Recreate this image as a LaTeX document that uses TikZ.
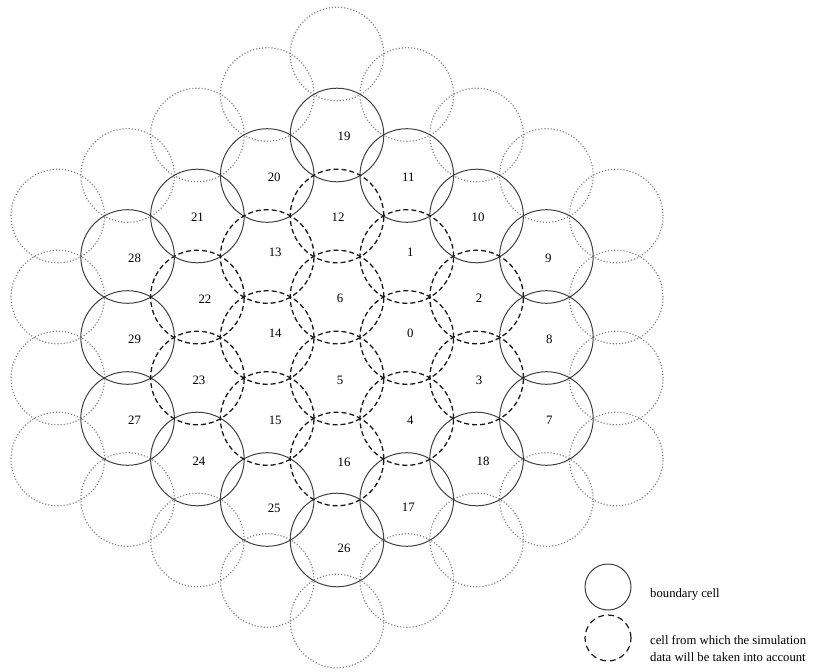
\documentclass[tikz,border=0pt]{standalone}
\usepackage{fontspec}
\setmainfont{Liberation Serif}
\usetikzlibrary{positioning,calc}

\begin{document}
\begin{tikzpicture}[
  x=1pt, y=-1pt,
  cell/.style={circle, minimum size=93.6pt, inner sep=0pt},
  boundcell/.style={cell, draw=black!75, line width=1pt},
  datacell/.style={cell, draw=black!90, line width=1.3pt, dash pattern=on 5pt off 3pt},
  ringcell/.style={cell, draw=black!50, line width=1.2pt, dash pattern=on 1.1pt off 2pt},
  num/.style={inner sep=0pt, font=\fontsize{12.8}{14}\selectfont},
  legtext/.style={anchor=west, align=left, inner sep=0pt, font=\fontsize{12.7}{17}\selectfont}
]
  \useasboundingbox (0,0) rectangle (820,672);

  % outer ring, not part of the model
  \foreach \i/\j [count=\k] in {-4/-3,-4/-1,-4/1,-4/3,4/-3,4/-1,4/1,4/3,
      -3/-4,-3/4,3/-4,3/4,-2/-5,-2/5,2/-5,2/5,-1/-6,-1/6,1/-6,1/6,0/-7,0/7}
    \node[ringcell] (o\k) at ({337+69.8*\i},{337.5+40.5*\j}) {};

  % boundary cells
  \foreach \i/\j/\n/\dx/\dy in {3/2/7/3/1.5, 3/0/8/3/1.5, 3/-2/9/2/1.5,
      2/-3/10/1.5/1, 1/-4/11/1.5/1.5, 1/4/17/1.5/7.5, 2/3/18/6.5/2,
      0/-5/19/7/1, -1/-4/20/7/1.5, -2/-3/21/0/1, -2/3/24/1.5/2,
      -1/4/25/7/8.5, 0/5/26/7/8, -3/2/27/7/1.5, -3/-2/28/7/1.5, -3/0/29/7/1.5} {
    \node[boundcell] (c\n) at ({337+69.8*\i},{337.5+40.5*\j}) {};
    \node[num] (n\n) at ($(c\n)+(\dx,\dy)$) {\n};
  }

  % cells whose data are used
  \foreach \i/\j/\n/\dx/\dy in {1/0/0/3.5/-4.5, 1/-2/1/3.5/-4.5, 2/-1/2/2.5/1,
      2/1/3/2.5/2, 1/2/4/3.5/1.5, 0/1/5/3/2, 0/-1/6/3/1, 0/-3/12/1/1,
      -1/-2/13/8/-4.5, -1/0/14/8/-4.5, -1/2/15/8/1.5, 0/3/16/7/3,
      -2/-1/22/7.5/2, -2/1/23/1.5/2} {
    \node[datacell] (c\n) at ({337+69.8*\i},{337.5+40.5*\j}) {};
    \node[num] (n\n) at ($(c\n)+(\dx,\dy)$) {\n};
  }

  % legend
  \node[boundcell, minimum size=46pt] (legb) at (608,587) {};
  \node[datacell, minimum size=46pt, line width=1.2pt, dash pattern=on 6pt off 4pt] (legd) at (608,638) {};
  \node[legtext] (legbtext) at (650,594) {boundary cell};
  \node[legtext] (legdtext) at (650,648.5) {cell from which the simulation\\data will be taken into account};
\end{tikzpicture}
\end{document}
